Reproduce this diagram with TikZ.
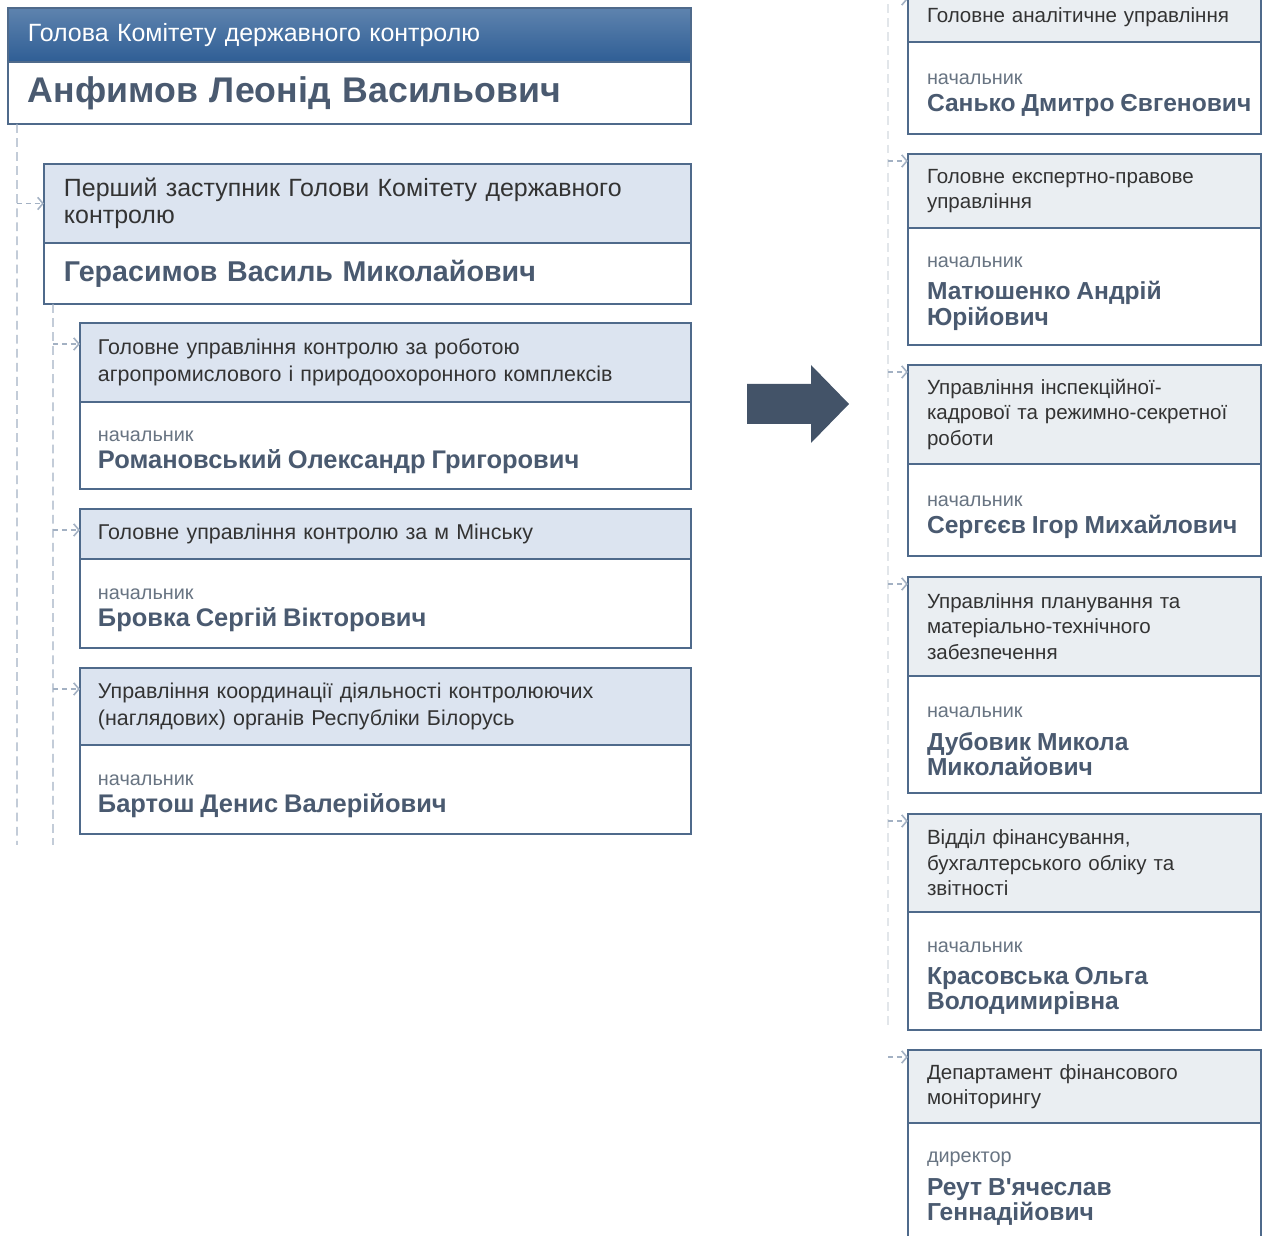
\documentclass[tikz,border=0pt]{standalone}
\usepackage{fontspec}
\setmainfont{Liberation Sans}
\usetikzlibrary{positioning, arrows.meta}
\definecolor{Frame}{HTML}{4F6A8B}
\definecolor{HeadBlue}{HTML}{DCE4F0}
\definecolor{HeadGray}{HTML}{EAEEF2}
\definecolor{BarTop}{HTML}{5E83AE}
\definecolor{BarBot}{HTML}{2F5E95}
\definecolor{NameInk}{HTML}{4A5A70}
\definecolor{TextInk}{HTML}{333333}
\definecolor{RoleInk}{HTML}{687482}
\definecolor{Trunk}{HTML}{A3B1C3}
\definecolor{TrunkFaint}{HTML}{E2E6EA}
\definecolor{Slate}{HTML}{435368}

\newcommand\rolefont{\fontsize{11.3pt}{13pt}\selectfont\color{RoleInk}}
\newcommand\namefont{\fontsize{14pt}{15pt}\selectfont\bfseries\color{NameInk}}
\newcommand\lnamefont{\fontsize{14.5pt}{15.5pt}\selectfont\bfseries\color{NameInk}}

\begin{document}
\begin{tikzpicture}[
    x=0.02cm, y=-0.02cm,
    every node/.style={inner ysep=0pt, outer sep=0pt, align=left, anchor=north west},
    box/.style={draw=Frame, line width=0.8pt, rectangle},
    tophead/.style={box, top color=BarTop, bottom color=BarBot, text=white, text width=12.86cm, inner xsep=0.4cm, font=\fontsize{14.2pt}{16pt}\selectfont},
    topbody/.style={box, fill=white, text=NameInk, text width=12.86cm, inner xsep=0.4cm, font=\fontsize{20.3pt}{24pt}\selectfont\bfseries},
    dephead/.style={box, fill=HeadBlue, text=TextInk, text width=12.14cm, inner xsep=0.4cm, font=\fontsize{14.2pt}{15.4pt}\selectfont},
    depbody/.style={box, fill=white, text=NameInk, text width=12.14cm, inner xsep=0.4cm, font=\fontsize{16.3pt}{19pt}\selectfont\bfseries},
    lhead/.style={box, fill=HeadBlue, text=TextInk, text width=11.5cm, inner xsep=0.36cm, font=\fontsize{12.2pt}{15.4pt}\selectfont},
    lbody/.style={box, fill=white, text width=11.5cm, inner xsep=0.36cm, execute at begin node={\rule{0pt}{14pt}}},
    rhead/.style={box, fill=HeadGray, text=TextInk, text width=6.3cm, inner xsep=0.38cm, font=\fontsize{11.7pt}{14.5pt}\selectfont},
    rbody/.style={box, fill=white, text width=6.3cm, inner xsep=0.38cm, execute at begin node={\rule{0pt}{14pt}}},
    trunk/.style={Trunk, line width=0.8pt, dash pattern=on 5pt off 3pt},
    faint/.style={TrunkFaint, line width=0.8pt, dash pattern=on 5pt off 3pt},
    link/.style={Trunk, line width=0.9pt, dash pattern=on 3pt off 2pt, -{Straight Barb[length=3pt, width=7pt]}}
]
\clip (0,0) rectangle (1262,1236);

% === LEFT COLUMN: chairman ===
\node[tophead, minimum height=1.08cm] (chairH) at (8,8) {Голова Комітету державного контролю};
\node[topbody, minimum height=1.24cm] (chairB) at (chairH.south west) {Анфимов Леонід Васильович};

% first deputy
\node[dephead, minimum height=1.58cm] (depH) at (44,164) {Перший заступник Голови Комітету державного\\контролю};
\node[depbody, minimum height=1.22cm] (depB) at (depH.south west) {Герасимов Василь Миколайович};

% departments under the first deputy
\node[lhead, minimum height=1.58cm] (agroH) at (80,323) {Головне управління контролю за роботою\\агропромислового і природоохоронного комплексів};
\node[lbody, minimum height=1.74cm] (agroB) at (agroH.south west) {\rolefont начальник\\[3.5pt]\lnamefont Романовський Олександр Григорович};

\node[lhead, minimum height=1.0cm] (minskH) at (80,509) {Головне управління контролю за м Мінську};
\node[lbody, minimum height=1.78cm] (minskB) at (minskH.south west) {\rolefont начальник\\[3.5pt]\lnamefont Бровка Сергій Вікторович};

\node[lhead, minimum height=1.54cm] (coordH) at (80,668) {Управління координації діяльності контролюючих\\(наглядових) органів Республіки Білорусь};
\node[lbody, minimum height=1.78cm] (coordB) at (coordH.south west) {\rolefont начальник\\[3.5pt]\lnamefont Бартош Денис Валерійович};

% dashed trunks and links
\coordinate (trunkA) at ([xshift=0.18cm]chairB.south west);
\coordinate (trunkAend) at (17,845);
\draw[trunk] (trunkA) -- (trunkAend);
\draw[link] (trunkA |- depH.west) -- (depH.west);

\coordinate (trunkB) at ([xshift=0.18cm]depB.south west);
\coordinate (trunkBend) at (53,845);
\draw[trunk] (trunkB) -- (trunkBend);
\foreach \d in {agroH, minskH, coordH}{
    \coordinate (p) at ([yshift=-0.42cm]\d.north west);
    \draw[link] (trunkB |- p) -- (p);
}

% === ARROW between columns ===
\fill[Slate] (747,384) -- (811,384) -- (811,365) -- (849,404) -- (811,443) -- (811,424) -- (747,424) -- cycle;

% === RIGHT COLUMN: other departments ===
\node[rhead, minimum height=1.0cm] (anaH) at (908,-8) {Головне аналітичне управління};
\node[rbody, minimum height=1.84cm] (anaB) at (anaH.south west) {\rolefont начальник\\[3.5pt]\namefont\mbox{Санько Дмитро Євгенович}};

\node[rhead, minimum height=1.48cm] (lawH) at (908,154) {Головне експертно-правове\\управління};
\node[rbody, minimum height=2.34cm] (lawB) at (lawH.south west) {\rolefont начальник\\[3.5pt]\namefont Матюшенко Андрій\\Юрійович};

\node[rhead, minimum height=1.98cm] (hrH) at (908,365) {Управління інспекційної-\\кадрової та режимно-секретної\\роботи};
\node[rbody, minimum height=1.84cm] (hrB) at (hrH.south west) {\rolefont начальник\\[3.5pt]\namefont Сергєєв Ігор Михайлович};

\node[rhead, minimum height=1.98cm] (planH) at (908,577) {Управління планування та\\матеріально-технічного\\забезпечення};
\node[rbody, minimum height=2.34cm] (planB) at (planH.south west) {\rolefont начальник\\[3.5pt]\namefont Дубовик Микола\\Миколайович};

\node[rhead, minimum height=1.96cm] (finH) at (908,814) {Відділ фінансування,\\бухгалтерського обліку та\\звітності};
\node[rbody, minimum height=2.36cm] (finB) at (finH.south west) {\rolefont начальник\\[3.5pt]\namefont Красовська Ольга\\Володимирівна};

\node[rhead, minimum height=1.46cm] (monH) at (908,1050) {Департамент фінансового\\моніторингу};
\node[rbody, minimum height=2.36cm] (monB) at (monH.south west) {\rolefont директор\\[3.5pt]\namefont Реут В\textquotesingle ячеслав\\Геннадійович};

% faint trunk on the right
\coordinate (trunkC) at (888,-10);
\coordinate (trunkCend) at (888,1030);
\draw[faint] (trunkC) -- (trunkCend);
\foreach \d in {anaH, lawH, hrH, planH, finH, monH}{
    \coordinate (q) at ([yshift=-0.14cm]\d.north west);
    \draw[link] (trunkC |- q) -- (q);
}

\end{tikzpicture}
\end{document}
